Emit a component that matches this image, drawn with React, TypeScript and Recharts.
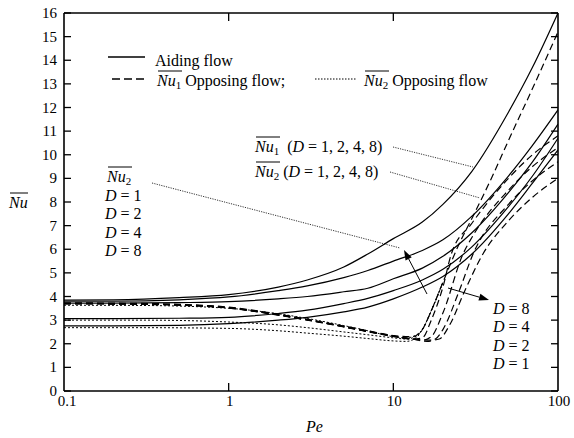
import type { ReactNode } from 'react';
import { LineChart, Line, XAxis, YAxis } from 'recharts';

// aiding flow (solid)
const aidPe = [0.1, 0.2, 0.5, 1, 2, 3, 5, 7, 10, 15, 20, 30, 50, 70, 100];
const aid1 = [3.85, 3.86, 3.95, 4.08, 4.4, 4.7, 5.25, 5.8, 6.45, 7.15, 7.9, 9.3, 11.8, 13.7, 16.0];
const aid2 = [3.8, 3.8, 3.86, 3.98, 4.25, 4.45, 4.8, 5.1, 5.5, 5.95, 6.4, 7.4, 9.1, 10.4, 11.9];
const aid3 = [3.72, 3.72, 3.74, 3.78, 3.9, 4.0, 4.2, 4.35, 4.75, 5.2, 5.7, 6.7, 8.4, 9.7, 11.3];
const aid4 = [3.06, 3.06, 3.08, 3.12, 3.28, 3.42, 3.7, 3.92, 4.25, 4.7, 5.15, 6.1, 7.8, 9.1, 10.7];
const aid5 = [2.76, 2.76, 2.78, 2.85, 3.0, 3.12, 3.35, 3.55, 3.9, 4.4, 4.85, 5.8, 7.5, 8.8, 10.2];

// opposing flow Nu1 (dashed)
const oppSteepPe = [0.1, 0.2, 0.5, 1, 2, 3, 5, 7, 10, 13, 15, 17, 20, 25, 30, 40, 50, 70, 100];
const oppSteep = [3.73, 3.72, 3.67, 3.55, 3.25, 3.04, 2.75, 2.55, 2.35, 2.3, 2.6, 3.4, 4.6, 6.2, 7.3, 9.1, 10.6, 12.8, 15.2];
const oppD8Pe = [0.1, 0.2, 0.5, 1, 2, 3, 5, 7, 10, 13, 15, 17, 20, 22.5, 30, 50, 70, 100];
const oppD8 = [3.71, 3.7, 3.65, 3.53, 3.23, 3.02, 2.73, 2.53, 2.33, 2.2, 2.25, 3.0, 4.4, 5.8, 7.1, 9.0, 10.0, 10.8];
const oppD4Pe = [0.1, 0.2, 0.5, 1, 2, 3, 5, 7, 10, 13, 15, 17, 20, 26.5, 30, 50, 70, 100];
const oppD4 = [3.7, 3.69, 3.64, 3.52, 3.22, 3.01, 2.72, 2.52, 2.32, 2.2, 2.15, 2.3, 3.3, 5.8, 6.5, 8.5, 9.5, 10.3];
const oppD2Pe = [0.1, 0.2, 0.5, 1, 2, 3, 5, 7, 10, 13, 16, 18, 20, 25, 30.5, 50, 70, 100];
const oppD2 = [3.7, 3.69, 3.64, 3.52, 3.22, 3.01, 2.72, 2.52, 2.32, 2.2, 2.1, 2.2, 2.6, 4.2, 5.8, 7.9, 8.9, 9.7];
const oppD1Pe = [0.1, 0.2, 0.5, 1, 2, 3, 5, 7, 10, 13, 17, 19, 22, 27, 35, 50, 70, 100];
const oppD1 = [3.69, 3.68, 3.63, 3.51, 3.21, 3.0, 2.71, 2.51, 2.31, 2.2, 2.15, 2.2, 2.8, 4.2, 5.8, 7.2, 8.2, 9.0];

// opposing flow Nu2 (dotted)
const oppNu2Pe = [0.1, 0.3, 1, 2, 3, 5, 7, 10, 12, 14, 15, 17, 20];
const oppNu2a = [3.63, 3.62, 3.5, 3.27, 3.07, 2.77, 2.55, 2.3, 2.25, 2.4, 2.6, 3.4, 4.6];
const oppNu2b = [3.0, 3.0, 2.92, 2.8, 2.68, 2.5, 2.38, 2.25, 2.2, 2.35, 2.6, 3.4, 4.6];
const oppNu2c = [2.68, 2.68, 2.65, 2.55, 2.45, 2.32, 2.22, 2.12, 2.1, 2.3, 2.6, 3.4, 4.6];

const xTicks = [0.1, 1, 10, 100];
const xInner = [1, 10];
const yTicks = [0, 1, 2, 3, 4, 5, 6, 7, 8, 9, 10, 11, 12, 13, 14, 15, 16];

const FONT = '"Liberation Serif", "Times New Roman", Tinos, FreeSerif, "Noto Serif", "Noto Serif CJK SC", serif';

const toRows = (pe: number[], nu: number[]) => pe.map((p, i) => ({ pe: p, nu: nu[i] }));

const solid = [aid1, aid2, aid3, aid4, aid5].map((v) => toRows(aidPe, v));
const dashed = [
  toRows(oppSteepPe, oppSteep),
  toRows(oppD8Pe, oppD8),
  toRows(oppD4Pe, oppD4),
  toRows(oppD2Pe, oppD2),
  toRows(oppD1Pe, oppD1),
];
const dotted = [oppNu2a, oppNu2b, oppNu2c].map((v) => toRows(oppNu2Pe, v));

const LeftTick = ({ x, y, payload }: any) => (
  <g>
    <line x1={x} y1={y} x2={x + 7} y2={y} stroke="#000" strokeWidth={1.3} />
    <text x={x - 7} y={y + 5} textAnchor="end" fontSize={15} style={{ fontFamily: FONT }} fill="#000">
      {payload.value}
    </text>
  </g>
);

const RightTick = ({ x, y }: any) => (
  <line x1={x} y1={y} x2={x - 7} y2={y} stroke="#000" strokeWidth={1.3} />
);

const BottomTick = ({ x, y, payload }: any) => (
  <g>
    {xInner.includes(payload.value) && (
      <line x1={x} y1={y} x2={x} y2={y - 8} stroke="#000" strokeWidth={1.3} />
    )}
    <text
      x={payload.value === 0.1 ? x + 3 : x + 1}
      y={y + 15}
      textAnchor="middle"
      fontSize={15}
      style={{ fontFamily: FONT }}
      fill="#000"
    >
      {payload.value}
    </text>
  </g>
);

const TopTick = ({ x, y }: any) => (
  <line x1={x} y1={y} x2={x} y2={y + 8} stroke="#000" strokeWidth={1.3} />
);

function Arrow({ x1, y1, x2, y2 }: { x1: number; y1: number; x2: number; y2: number }) {
  const a = Math.atan2(y2 - y1, x2 - x1);
  const L = 10;
  const w = 3.5;
  const bx = x2 - L * Math.cos(a);
  const by = y2 - L * Math.sin(a);
  const px = -Math.sin(a) * w;
  const py = Math.cos(a) * w;
  return (
    <g>
      <line x1={x1} y1={y1} x2={bx} y2={by} stroke="#000" strokeWidth={1} />
      <polygon points={`${x2},${y2} ${bx + px},${by + py} ${bx - px},${by - py}`} fill="#000" />
    </g>
  );
}

// HTML text placed by its baseline
function T({ x, b, children }: { x: number; b: number; children: ReactNode }) {
  return (
    <div
      style={{
        position: 'absolute',
        left: x,
        top: b - 13.4,
        fontSize: 16,
        lineHeight: '16px',
        whiteSpace: 'nowrap',
        fontFamily: FONT,
        color: '#000',
      }}
    >
      {children}
    </div>
  );
}

const Nu = ({ sub }: { sub?: string }) => (
  <>
    <i>Nu</i>
    {sub && <span style={{ fontSize: 11, position: 'relative', top: 3 }}>{sub}</span>}
  </>
);
const D = () => <i>D</i>;

function Bar({ x, b, w }: { x: number; b: number; w: number }) {
  return <line x1={x + 1} y1={b - 15} x2={x + w} y2={b - 15} stroke="#000" strokeWidth={1} />;
}

function Overlay() {
  return (
    <div style={{ position: 'absolute', left: 0, top: 0, width: 574, height: 438, pointerEvents: 'none' }}>
      <svg width={574} height={438} style={{ position: 'absolute', left: 0, top: 0 }}>
        {/* legend samples */}
        <line x1={108} y1={57} x2={145} y2={57} stroke="#000" strokeWidth={1.3} />
        <line x1={112} y1={79} x2={148} y2={79} stroke="#000" strokeWidth={1.3} strokeDasharray="8 4" />
        <line x1={315} y1={79} x2={357} y2={79} stroke="#000" strokeWidth={1} strokeDasharray="1.5 1.5" />
        {/* overlines */}
        <Bar x={157} b={86} w={25} />
        <Bar x={364} b={86} w={25} />
        <Bar x={255} b={152} w={25} />
        <Bar x={255} b={177} w={25} />
        <Bar x={107} b={182} w={25} />
        <Bar x={9} b={208} w={19} />
        {/* pointers */}
        <line x1={393} y1={147} x2={473} y2={167} stroke="#000" strokeWidth={0.8} strokeDasharray="1.2 1.2" />
        <line x1={390} y1={172} x2={480} y2={198} stroke="#000" strokeWidth={0.8} strokeDasharray="1.2 1.2" />
        <line x1={152} y1={183} x2={400} y2={248} stroke="#000" strokeWidth={0.8} strokeDasharray="1.2 1.2" />
        <Arrow x1={427} y1={294} x2={404} y2={250} />
        <Arrow x1={448} y1={288} x2={489} y2={300} />
      </svg>

      <T x={155} b={66}>Aiding flow</T>
      <T x={157} b={86}>
        <Nu sub="1" /> Opposing flow;
      </T>
      <T x={364} b={86}>
        <Nu sub="2" /> Opposing flow
      </T>

      <T x={255} b={152}>
        <Nu sub="1" />&nbsp; (<D /> = 1, 2, 4, 8)
      </T>
      <T x={255} b={177}>
        <Nu sub="2" /> (<D /> = 1, 2, 4, 8)
      </T>

      <T x={107} b={182}>
        <Nu sub="2" />
      </T>
      {['1', '2', '4', '8'].map((d, i) => (
        <T key={`l${d}`} x={105} b={201 + i * 18.6}>
          <D /> = {d}
        </T>
      ))}
      {['8', '4', '2', '1'].map((d, i) => (
        <T key={`r${d}`} x={493} b={314 + i * 18.6}>
          <D /> = {d}
        </T>
      ))}

      <T x={9} b={208}>
        <Nu />
      </T>
      <T x={306} b={432}>
        <i>Pe</i>
      </T>
    </div>
  );
}

export default function App() {
  return (
    <div
      style={{
        position: 'absolute',
        left: 0,
        top: 0,
        width: 574,
        height: 438,
        background: '#fff',
        fontFamily: FONT,
      }}
    >
      <LineChart width={574} height={438} margin={{ top: 0, right: 0, bottom: 0, left: 0 }}>
        <XAxis
          dataKey="pe"
          type="number"
          scale="log"
          domain={[0.1, 100]}
          ticks={xTicks}
          interval={0}
          allowDataOverflow
          height={47}
          tickSize={0}
          tickMargin={0}
          tickLine={false}
          axisLine={{ stroke: '#000', strokeWidth: 1.6 }}
          tick={<BottomTick />}
        />
        <XAxis
          xAxisId="top"
          orientation="top"
          dataKey="pe"
          type="number"
          scale="log"
          domain={[0.1, 100]}
          ticks={xInner}
          interval={0}
          allowDataOverflow
          height={13}
          tickSize={0}
          tickMargin={0}
          tickLine={false}
          axisLine={{ stroke: '#000', strokeWidth: 1.6 }}
          tick={<TopTick />}
        />
        <YAxis
          type="number"
          domain={[0, 16]}
          ticks={yTicks}
          interval={0}
          allowDataOverflow
          width={64}
          tickSize={0}
          tickMargin={0}
          tickLine={false}
          axisLine={{ stroke: '#000', strokeWidth: 1.6 }}
          tick={<LeftTick />}
        />
        <YAxis
          yAxisId="right"
          orientation="right"
          type="number"
          domain={[0, 16]}
          ticks={yTicks}
          interval={0}
          allowDataOverflow
          width={16}
          tickSize={0}
          tickMargin={0}
          tickLine={false}
          axisLine={{ stroke: '#000', strokeWidth: 1.6 }}
          tick={<RightTick />}
        />
        {solid.map((d, i) => (
          <Line
            key={`s${i}`}
            data={d}
            dataKey="nu"
            type="monotone"
            stroke="#000"
            strokeWidth={1.2}
            dot={false}
            isAnimationActive={false}
          />
        ))}
        {dashed.map((d, i) => (
          <Line
            key={`d${i}`}
            data={d}
            dataKey="nu"
            type="monotone"
            stroke="#000"
            strokeWidth={1.2}
            strokeDasharray="7 4"
            dot={false}
            isAnimationActive={false}
          />
        ))}
        {dotted.map((d, i) => (
          <Line
            key={`p${i}`}
            data={d}
            dataKey="nu"
            type="monotone"
            stroke="#000"
            strokeWidth={1}
            strokeDasharray="2 2"
            dot={false}
            isAnimationActive={false}
          />
        ))}
      </LineChart>
      <Overlay />
    </div>
  );
}
